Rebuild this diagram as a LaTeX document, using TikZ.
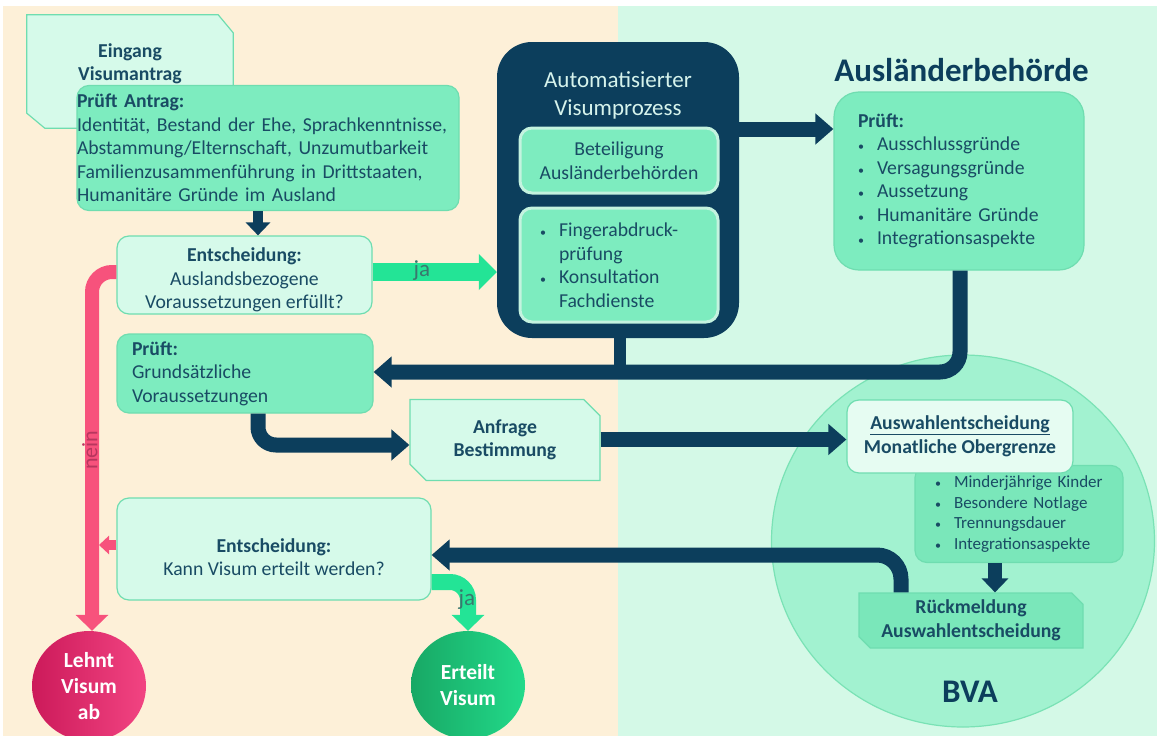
\documentclass[tikz,border=0pt]{standalone}
\usepackage{fontspec}
\setmainfont{Carlito}
\usetikzlibrary{arrows.meta,shapes.misc,shapes.geometric,calc}

\definecolor{beige}{HTML}{FDF0D8}
\definecolor{mintbg}{HTML}{D4F9E7}
\definecolor{gmid}{HTML}{7DECBF}
\definecolor{glight}{HTML}{D6FAEA}
\definecolor{gborder}{HTML}{6FDDB0}
\definecolor{navy}{HTML}{0C3E5C}
\definecolor{tdark}{HTML}{194B64}
\definecolor{brightgreen}{HTML}{23E496}
\definecolor{pinkline}{HTML}{F7527C}
\definecolor{bvafill}{HTML}{A2F2D0}
\definecolor{bvaborder}{HTML}{7AE2B5}
\definecolor{bulfill}{HTML}{7AE7BA}
\definecolor{auswfill}{HTML}{E6FCF2}
\definecolor{inborder}{HTML}{C4F3DF}
\definecolor{autotext}{HTML}{D6F3EC}
\definecolor{jatext}{HTML}{3A786E}
\definecolor{neintext}{HTML}{B8365E}
\definecolor{lehntA}{HTML}{CC1A5A}
\definecolor{lehntB}{HTML}{F24482}
\definecolor{erteiltA}{HTML}{18A865}
\definecolor{erteiltB}{HTML}{22DA8A}

\newcommand{\mybul}[1]{\makebox[19pt][l]{\fontsize{12}{12}\selectfont\textbullet}#1}

\tikzset{
  body/.style={font=\fontsize{19.7}{23.5}\selectfont, text=tdark},
  gbox/.style={draw=gborder, fill=gmid, line width=1.2pt, rounded corners=12pt, inner sep=0pt},
  lbox/.style={draw=gborder, fill=glight, line width=1.2pt, rounded corners=12pt, inner sep=0pt},
  snipbox/.style={chamfered rectangle, chamfered rectangle corners={north east,south west},
     draw=gborder, line width=1.2pt, inner sep=0pt},
  inbox/.style={draw=inborder, fill=gmid, line width=3pt, rounded corners=12pt, inner sep=0pt},
  navyarrow/.style={draw=navy, line width=15pt, rounded corners=20pt, -{Triangle[width=30pt,length=18pt]}},
  navysmall/.style={draw=navy, line width=10pt, -{Triangle[width=24pt,length=13pt]}},
  navystem/.style={draw=navy, line width=12pt},
  greenarrow/.style={draw=brightgreen, line width=18pt, rounded corners=18pt, -{Triangle[width=35pt,length=18pt]}},
  pinkarrow/.style={draw=pinkline, line width=14pt, rounded corners=20pt, -{Triangle[width=32pt,length=16pt]}},
  pinksmall/.style={draw=pinkline, line width=10pt, -{Triangle[width=18pt,length=10pt]}},
  endcircle/.style={ellipse, inner sep=0pt, text=white, align=center,
     font=\bfseries\fontsize{21.5}{26}\selectfont},
  labeltxt/.style={font=\fontsize{23}{26}\selectfont}
}

\begin{document}
\begin{tikzpicture}[x=1pt,y=-1pt]
\useasboundingbox (0,0) rectangle (1157,736);
\fill[white] (0,0) rectangle (1157,736);
\fill[beige] (3,6) rectangle (618,736);
\fill[mintbg] (618,6) rectangle (1157,736);

% BVA circle
\node[ellipse, draw=bvaborder, fill=bvafill, line width=1.2pt, minimum width=383, minimum height=372] (bva) at (963,541) {};
\node[font=\bfseries\fontsize{33}{36}\selectfont, text=navy] (bvatxt) at (970,692) {BVA};

% Eingang (snipped corners)
\node[minimum width=206, minimum height=113, inner sep=0pt] (eingang) at (130,71.5) {};
\filldraw[fill=glight, draw=gborder, line width=1.2pt]
  (eingang.north west) -- ($(eingang.north east)+(-15,0)$) -- ($(eingang.north east)+(0,18)$)
  -- (eingang.south east) -- ($(eingang.south west)+(18,0)$) -- ($(eingang.south west)+(0,-15)$) -- cycle;
\node[body, font=\bfseries\fontsize{19.7}{23.5}\selectfont, align=center] (eingangtxt) at (130,64) {Eingang\\Visumantrag};

% Pruft Antrag
\node[gbox, body, align=left, text width=382, minimum height=125] (pantrag) at (268,148) {%
\textbf{Prüft Antrag:}\\
Identität, Bestand der Ehe, Sprachkenntnisse,\\
Abstammung/Elternschaft, Unzumutbarkeit\\
Familienzusammenführung in Drittstaaten,\\
Humanitäre Gründe im Ausland};

% Entscheidung 1
\node[lbox, minimum width=255, minimum height=78] (ent1) at (244.5,275) {};
\node[body, align=center] (ent1txt) at (244.5,280) {\textbf{Entscheidung:}\\Auslandsbezogene\\Voraussetzungen erfüllt?};

% Automatisierter Visumprozess
\node[fill=navy, rounded corners=35pt, minimum width=242, minimum height=296, inner sep=0pt] (auto) at (618,190) {};
\node[font=\fontsize{23}{28}\selectfont, text=autotext, align=center] (autotitle) at (618,95) {Automatisierter\\Visumprozess};
\node[inbox, body, align=center, minimum width=198, minimum height=65] (beteil) at (619,160.5) {Beteiligung\\Ausländerbehörden};
\node[inbox, body, align=left, text width=158, inner xsep=20pt, minimum height=114] (finger) at (619,265) {%
\mybul{Fingerabdruck-}\\\hspace*{19pt}prüfung\\\mybul{Konsultation}\\\hspace*{19pt}Fachdienste};

% Auslaenderbehoerde
\node[font=\bfseries\fontsize{33}{38}\selectfont, text=navy] (aushead) at (961.5,70) {Ausländerbehörde};
\node[gbox, body, rounded corners=25pt, align=left, text width=202, inner xsep=24pt, minimum height=178] (ausl) at (959,181) {%
\textbf{Prüft:}\\
\mybul{Ausschlussgründe}\\
\mybul{Versagungsgründe}\\
\mybul{Aussetzung}\\
\mybul{Humanitäre Gründe}\\
\mybul{Integrationsaspekte}};

% Pruft grundsaetzliche
\node[gbox, body, align=left, text width=226, inner xsep=15pt, minimum height=79] (pruefg) at (245,373.5) {%
\textbf{Prüft:}\\Grundsätzliche\\Voraussetzungen};

% Anfrage
\node[snipbox, fill=glight, chamfered rectangle xsep=13pt, minimum width=190, minimum height=81, body, font=\bfseries\fontsize{19.7}{23.5}\selectfont, align=center] (anf) at (505,440) {Anfrage\\Bestimmung};

% BVA boxes
\node[draw=gborder, fill=bulfill, line width=1.2pt, rounded corners=12pt, inner sep=0pt, inner xsep=20pt,
  text width=168, minimum height=97, align=left, font=\fontsize{17}{20.7}\selectfont, text=tdark] (bul) at (1019,514) {%
\mybul{Minderjährige Kinder}\\
\mybul{Besondere Notlage}\\
\mybul{Trennungsdauer}\\
\mybul{Integrationsaspekte}};
\node[draw=gborder, fill=auswfill, line width=1.2pt, rounded corners=12pt, inner sep=0pt, minimum width=226, minimum height=73,
  align=center, body, font=\bfseries\fontsize{19.7}{24.5}\selectfont] (auswahl) at (960,436.5) {%
\underline{Auswahlentscheidung}\\Monatliche Obergrenze};
\node[snipbox, fill=bulfill, chamfered rectangle xsep=8pt, minimum width=224, minimum height=55, body,
  font=\bfseries\fontsize{19.7}{23.5}\selectfont, align=center] (rueck) at (971,620.5) {Rückmeldung\\Auswahlentscheidung};

% Entscheidung 2
\node[lbox, minimum width=314, minimum height=102] (ent2) at (274,549) {};
\node[body, align=center] (ent2txt) at (274,557) {\textbf{Entscheidung:}\\Kann Visum erteilt werden?};

% end circles
\node[endcircle, left color=lehntA, right color=lehntB, minimum width=114, minimum height=110] (lehnt) at (89,686) {Lehnt\\Visum\\ab};
\node[endcircle, left color=erteiltA, right color=erteiltB, minimum width=114, minimum height=108] (erteilt) at (468,685) {Erteilt\\Visum};

% coordinates
\coordinate (stemend) at (620,371);
\coordinate (pj) at (99,545);

% connectors
\draw[navysmall] ([xshift=-10pt]pantrag.south) -- ([xshift=13.5pt]ent1.north);
\draw[greenarrow] ([yshift=3pt]ent1.east) -- ([yshift=3pt]ent1.east -| auto.west);
\draw[navyarrow] ([yshift=61pt]auto.east) -- ([yshift=61pt]auto.east -| ausl.west);
\draw[navystem] ([xshift=2pt]auto.south) -- (stemend);
\draw[navyarrow] ([xshift=1pt]ausl.south) |- ([yshift=1.5pt]pruefg.east);
\draw[navyarrow, rounded corners=18pt] ([xshift=13pt]pruefg.south) |- ([yshift=-5pt]anf.west);
\draw[navyarrow] ([yshift=0.5pt]anf.east) -- ([yshift=0.5pt]anf.east -| auswahl.west);
\draw[navysmall, line width=14pt, -{Triangle[width=26pt,length=14pt]}] ([xshift=-24pt]bul.south) -- ([xshift=24pt]rueck.north);
\draw[navyarrow, rounded corners=24pt] ([xshift=-70pt]rueck.north) |- ([yshift=-6pt]ent2.east);
\draw[pinkarrow] ([yshift=3pt]ent1.west) -| ([xshift=3pt]lehnt.north);
\draw[pinksmall] (ent2.west |- pj) -- (pj);
\draw[greenarrow, line width=16pt, -{Triangle[width=32pt,length=16pt]}] ([yshift=-33pt]ent2.east) -| (erteilt.north);

% labels
\node[labeltxt, text=jatext] (ja1) at (422,271) {ja};
\node[labeltxt, text=jatext] (ja2) at (467,600) {ja};
\node[labeltxt, font=\fontsize{22}{26}\selectfont, text=neintext, rotate=90] (nein) at (90,450) {nein};
\end{tikzpicture}
\end{document}
